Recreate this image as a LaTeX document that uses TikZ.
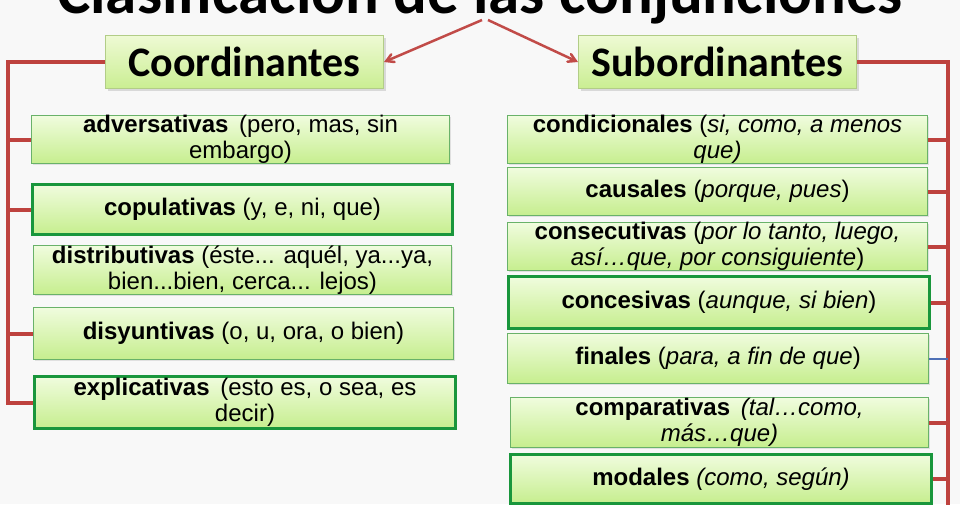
\documentclass[tikz,border=0pt]{standalone}
\usepackage{fontspec}
\setmainfont{Liberation Sans}
\newfontfamily\headfont{Carlito}
\usepackage{tikz}
\usetikzlibrary{arrows}
\usetikzlibrary{shadows}

\definecolor{bgcol}{RGB}{248,248,248}
\definecolor{itemtop}{RGB}{240,252,222}
\definecolor{itembot}{RGB}{198,238,142}
\definecolor{itemline}{RGB}{105,178,105}
\definecolor{hiline}{RGB}{25,150,60}
\definecolor{headtop}{RGB}{238,250,212}
\definecolor{headbot}{RGB}{202,238,146}
\definecolor{headline}{RGB}{178,205,135}
\definecolor{brkred}{RGB}{190,66,62}
\definecolor{finblue}{RGB}{79,112,182}

\tikzset{
  item/.style={draw=itemline, line width=1pt, top color=itemtop, bottom color=itembot,
    anchor=north west, align=center, inner sep=0pt,
    drop shadow={opacity=0.2, shadow xshift=1pt, shadow yshift=-1.5pt},
    font=\fontsize{24}{26}\selectfont},
  itemhi/.style={item, draw=hiline, line width=3pt},
  head/.style={draw=headline, line width=1pt, top color=headtop, bottom color=headbot,
    anchor=north west, minimum width=278, minimum height=53, inner sep=0pt,
    drop shadow={opacity=0.25, shadow xshift=2pt, shadow yshift=-2pt},
    font=\headfont\bfseries\fontsize{42}{46}\selectfont},
  brk/.style={draw=brkred, line width=4pt},
}

\begin{document}
\begin{tikzpicture}[>=angle 60,x=1pt,y=-1pt]
\useasboundingbox (0,0) rectangle (960,504);
\clip (0,0) rectangle (960,504);
\fill [bgcol] (0,0) rectangle (960,504);
% titulo
\node [anchor=base, inner sep=0pt, font=\headfont\bfseries\fontsize{63}{70}\selectfont] (title) at (480,13) {Clasificación de las conjunciones};
\coordinate (t1) at (482,20);
\coordinate (t2) at (488,20);
\node [head] (coord) at (105,35) {Coordinantes};
\node [head] (sub) at (578,35) {Subordinantes};
\draw [->, draw=brkred!95!white, line width=2.5pt] (t1) -- (coord.east);
\draw [->, draw=brkred!95!white, line width=2.5pt] (t2) -- (sub.west);
% coordinantes
\node [item, minimum width=418, minimum height=48] (adv) at (31,115) {\textbf{adversativas}\, (pero, mas, sin\\embargo)};
\node [itemhi, minimum width=420, minimum height=50] (cop) at (31,183) {\textbf{copulativas} (y, e, ni, que)};
\node [item, minimum width=418, minimum height=49] (dist) at (33,245) {\textbf{distributivas} (éste... aquél, ya...ya,\\bien...bien, cerca... lejos)};
\node [item, minimum width=420, minimum height=52] (disy) at (33,307) {\textbf{disyuntivas} (o, u, ora, o bien)};
\node [itemhi, minimum width=421, minimum height=52] (expl) at (33,375) {\textbf{explicativas}\, (esto es, o sea, es\\decir)};
% subordinantes
\node [item, minimum width=420, minimum height=48] (cond) at (507,115) {\textbf{condicionales} (\textit{si, como, a menos}\\\textit{que)}};
\node [item, minimum width=420, minimum height=48] (caus) at (507,167) {\textbf{causales} (\textit{porque, pues})};
\node [item, minimum width=420, minimum height=48] (cons) at (507,222) {\textbf{consecutivas} (\textit{por lo tanto, luego,}\\\textit{así…que, por consiguiente})};
\node [itemhi, minimum width=421, minimum height=52] (conc) at (507,275) {\textbf{concesivas} (\textit{aunque, si bien})};
\node [item, minimum width=421, minimum height=50] (fin) at (507,333) {\textbf{finales} (\textit{para, a fin de que})};
\node [item, minimum width=418, minimum height=50] (comp) at (510,397) {\textbf{comparativas}\, \textit{(tal…como,}\\\textit{más…que)}};
\node [itemhi, minimum width=421, minimum height=49] (mod) at (509,453) {\textbf{modales} \textit{(como, según)}};
% llaves
\coordinate (lt) at (8,62);
\coordinate (rt) at (948,62);
\coordinate (rb) at (948,510);
\draw [brk] (coord.west) -- (lt) |- (expl.west);
\foreach \n in {adv,cop,disy}
  \draw [brk] (\n.west -| lt) -- (\n.west);
\draw [brk] (sub.east) -- (rt) -- (rb);
\foreach \n in {cond,caus,cons,conc,comp,mod}
  \draw [brk] (\n.east -| rt) -- (\n.east);
\draw [draw=finblue, line width=2pt] (fin.east) -- (fin.east -| rt);
\end{tikzpicture}
\end{document}
